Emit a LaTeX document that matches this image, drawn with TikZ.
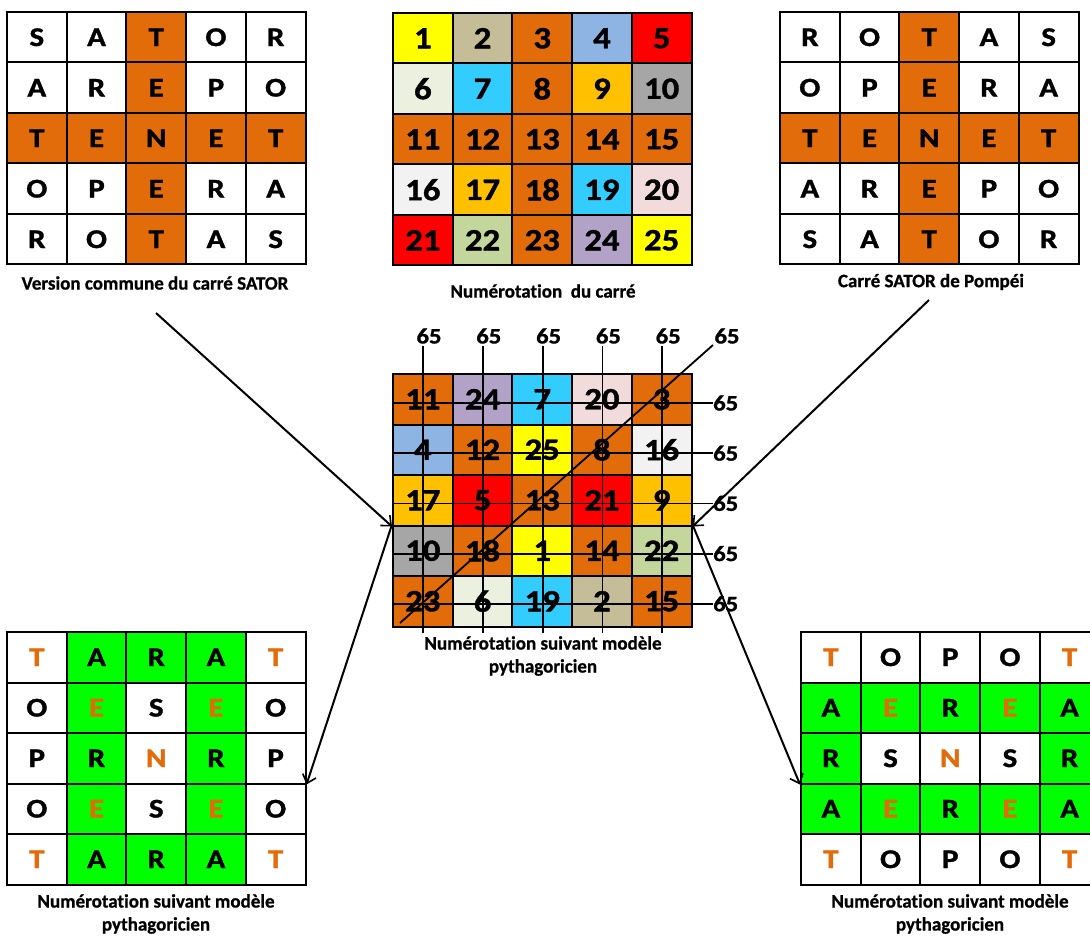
\documentclass[tikz,border=0pt]{standalone}
\usepackage{fontspec}
\setmainfont{Carlito}[Ligatures={NoCommon}, BoldFeatures={FakeBold=0.8}]
\newfontfamily\letfont{Carlito}[Ligatures={NoCommon}, BoldFeatures={FakeBold=1.2, FakeStretch=1.15}]
\newfontfamily\sumfont{Carlito}[BoldFeatures={FakeBold=1.2, FakeStretch=1.12}]
\usetikzlibrary{arrows.meta}
\definecolor{orng}{HTML}{E36C0A}
\definecolor{grn}{HTML}{00FF00}
\definecolor{yel}{HTML}{FFFF00}
\definecolor{tan}{HTML}{C4BD97}
\definecolor{lblue}{HTML}{8DB4E2}
\definecolor{rd}{HTML}{FF0000}
\definecolor{ivory}{HTML}{EBF1DE}
\definecolor{cyn}{HTML}{33CCFF}
\definecolor{gold}{HTML}{FFC000}
\definecolor{gry}{HTML}{A6A6A6}
\definecolor{lgry}{HTML}{F2F2F2}
\definecolor{pnk}{HTML}{F2DCDB}
\definecolor{sage}{HTML}{C3D69B}
\definecolor{lav}{HTML}{B2A2C7}
\tikzset{
  cell/.style={draw=black, line width=2pt, minimum width=59.7pt, minimum height=50.5pt, inner sep=0pt, anchor=center},
  letcell/.style={cell, font=\letfont\fontsize{27}{27}\selectfont\bfseries},
  numcell/.style={cell, font=\sumfont\fontsize{31}{31}\selectfont\bfseries},
  caption/.style={font=\fontsize{19}{23}\selectfont\bfseries, align=center, inner sep=0pt},
  sumlab/.style={font=\sumfont\fontsize{22}{22}\selectfont\bfseries, inner sep=0pt},
  sumline/.style={draw=black, line width=1.8pt},
  arr/.style={draw=black, line width=2pt, -{Straight Barb[length=8pt,width=14pt,line width=1.6pt]}}
}
\newcommand\mygrid[5]{%
  \foreach \f/\t/\c [count=\i from 0] in {#5} {
    \pgfmathtruncatemacro\row{int(\i/5)}
    \pgfmathtruncatemacro\col{mod(\i,5)}
    \node[#4, fill=\f, text=\c] (#1-\row-\col) at ({#2+(\col+0.5)*59.7},{#3+(\row+0.5)*50.5}) {\t};
  }
}
\begin{document}
\begin{tikzpicture}[x=1pt,y=-1pt]
\useasboundingbox (0,0) rectangle (1090,936);
% Top-left: version commune
\mygrid{A}{7}{12}{letcell}{white/S/black,white/A/black,orng/T/black,white/O/black,white/R/black,
 white/A/black,white/R/black,orng/E/black,white/P/black,white/O/black,
 orng/T/black,orng/E/black,orng/N/black,orng/E/black,orng/T/black,
 white/O/black,white/P/black,orng/E/black,white/R/black,white/A/black,
 white/R/black,white/O/black,orng/T/black,white/A/black,white/S/black}
\node[caption] (capA) at (155,283) {Version commune du carré SATOR};
% Top-middle: numerotation
\mygrid{B}{393}{13}{numcell}{yel/1/black,tan/2/black,orng/3/black,lblue/4/black,rd/5/black,
 ivory/6/black,cyn/7/black,orng/8/black,gold/9/black,gry/10/black,
 orng/11/black,orng/12/black,orng/13/black,orng/14/black,orng/15/black,
 lgry/16/black,gold/17/black,orng/18/black,cyn/19/black,pnk/20/black,
 rd/21/black,sage/22/black,orng/23/black,lav/24/black,yel/25/black}
\node[caption] (capB) at (543,291) {Numérotation\ \ du carré};
% Top-right: Pompei
\mygrid{C}{780}{12}{letcell}{white/R/black,white/O/black,orng/T/black,white/A/black,white/S/black,
 white/O/black,white/P/black,orng/E/black,white/R/black,white/A/black,
 orng/T/black,orng/E/black,orng/N/black,orng/E/black,orng/T/black,
 white/A/black,white/R/black,orng/E/black,white/P/black,white/O/black,
 white/S/black,white/A/black,orng/T/black,white/O/black,white/R/black}
\node[caption] (capC) at (931,282) {Carré SATOR de Pompéi};
% Center: magic square
\mygrid{D}{393}{374}{numcell}{orng/11/black,lav/24/black,cyn/7/black,pnk/20/black,orng/3/black,
 lblue/4/black,orng/12/black,yel/25/black,orng/8/black,lgry/16/black,
 gold/17/black,rd/5/black,orng/13/black,rd/21/black,gold/9/black,
 gry/10/black,orng/18/black,yel/1/black,orng/14/black,sage/22/black,
 orng/23/black,ivory/6/black,cyn/19/black,tan/2/black,orng/15/black}
\node[caption] (capD) at (543,656) {Numérotation suivant modèle\\pythagoricien};
% sums: columns
\foreach \k in {0,...,4} {
  \coordinate (vt\k) at ({423+\k*59.8},346);
  \coordinate (vb\k) at ({423+\k*59.8},633);
  \node[sumlab] (ct\k) at ({429+\k*59.8},336) {65};
  \draw[sumline] (vt\k) -- (vb\k);
}
% sums: rows
\foreach \k in {0,...,4} {
  \coordinate (hl\k) at (393,{403+\k*50.2});
  \node[sumlab, anchor=west] (rl\k) at (713,{403+\k*50.2}) {65};
  \draw[sumline] (hl\k) -- (rl\k.west);
}
% diagonal
\coordinate (dg) at (400,623);
\node[sumlab] (dl) at (727,336) {65};
\coordinate (dgt) at (713,345);
\draw[sumline] (dg) -- (dgt);
% Bottom-left
\mygrid{E}{7}{632}{letcell}{white/T/orng,grn/A/black,grn/R/black,grn/A/black,white/T/orng,
 white/O/black,grn/E/orng,white/S/black,grn/E/orng,white/O/black,
 white/P/black,grn/R/black,white/N/orng,grn/R/black,white/P/black,
 white/O/black,grn/E/orng,white/S/black,grn/E/orng,white/O/black,
 white/T/orng,grn/A/black,grn/R/black,grn/A/black,white/T/orng}
\node[caption] (capE) at (156,914) {Numérotation suivant modèle\\pythagoricien};
% Bottom-right
\mygrid{F}{801}{632}{letcell}{white/T/orng,white/O/black,white/P/black,white/O/black,white/T/orng,
 grn/A/black,grn/E/orng,grn/R/black,grn/E/orng,grn/A/black,
 grn/R/black,white/S/black,white/N/orng,white/S/black,grn/R/black,
 grn/A/black,grn/E/orng,grn/R/black,grn/E/orng,grn/A/black,
 white/T/orng,white/O/black,white/P/black,white/O/black,white/T/orng}
\node[caption] (capF) at (950,914) {Numérotation suivant modèle\\pythagoricien};
% arrows
\coordinate (sA) at (156,313);
\coordinate (sC) at (929,300);
\draw[arr] (sA) -- (D-2-0.south west);
\draw[arr] (D-3-0.north west) -- (E-2-4.south east);
\draw[arr] (sC) -- (D-2-4.south east);
\draw[arr] (D-3-4.north east) -- (F-2-0.south west);
\end{tikzpicture}
\end{document}
